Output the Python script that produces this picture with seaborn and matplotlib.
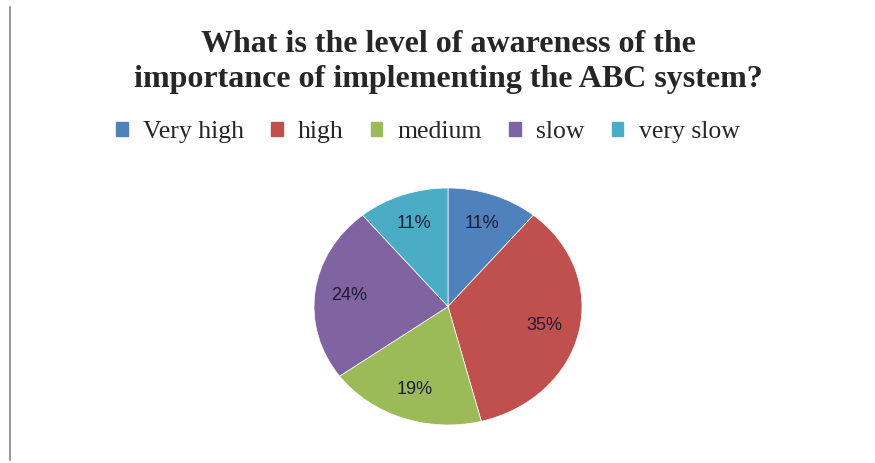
import matplotlib
matplotlib.use('Agg')
import matplotlib.pyplot as plt
import matplotlib.patches as mpatches
from matplotlib.lines import Line2D
import seaborn as sns

# Chart data
categories = ['Very high', 'high', 'medium', 'slow', 'very slow']
shares = [11, 35, 19, 24, 11]
colors = ['#4F81BD', '#C0504D', '#9BBB59', '#8064A2', '#4BACC6']

sns.set_style('white')
plt.rcParams['font.family'] = ['Liberation Serif', 'DejaVu Serif']

fig = plt.figure(figsize=(8.75, 4.63), dpi=100)

# pie drawn as an ellipse like the Excel original
ax = fig.add_axes([314 / 875, 38 / 463, 268 / 875, 237 / 463])
wedges, texts, autotexts = ax.pie(
    shares, colors=sns.color_palette(colors), startangle=90, counterclock=False,
    autopct='%d%%', pctdistance=0.74, radius=1,
    wedgeprops=dict(edgecolor='white', linewidth=0.5),
    textprops=dict(family=['Liberation Sans', 'DejaVu Sans'], fontsize=13, color='#1c1c34'))
ax.set_aspect('auto')
ax.set_xlim(-1, 1)
ax.set_ylim(-1, 1)
ax.axis('off')

fig.text(0.512, 0.935, 'What is the level of awareness of the\nimportance of implementing the ABC system?',
         ha='center', va='top', fontsize=23, fontweight='bold', linespacing=1.25)

handles = [mpatches.Patch(color=c, label=l) for c, l in zip(colors, categories)]
fig.legend(handles=handles, loc='center', bbox_to_anchor=(0.489, 0.715), ncol=5,
           frameon=False, fontsize=18.5, handlelength=0.45, handleheight=0.45,
           handletextpad=0.6, columnspacing=1.05)

# left border line of the original screenshot
fig.add_artist(Line2D([10 / 875, 10 / 875], [3 / 463, 456 / 463], color='#999999', linewidth=1.5))

fig.savefig('out.png', dpi=100)
